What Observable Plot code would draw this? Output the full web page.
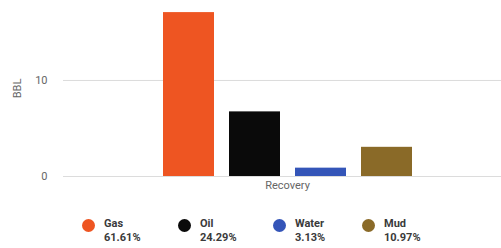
<!DOCTYPE html>
<html>
<head>
<meta charset="utf-8">
<script src="https://cdn.jsdelivr.net/npm/d3@7"></script>
<script src="https://cdn.jsdelivr.net/npm/@observablehq/plot@0.6"></script>
<style>
  html, body { margin: 0; padding: 0; background: #fff; }
  body { width: 501px; height: 248px; overflow: hidden; font-family: Roboto, "Liberation Sans", sans-serif; }
  #legend { position: relative; height: 52px; }
  .item { position: absolute; top: 21px; display: flex; align-items: flex-start; }
  .dot { width: 13px; height: 13px; border-radius: 50%; margin-top: 2px; }
  .lbl { margin-left: 9px; font-size: 11px; font-weight: bold; color: #3a3a3a; line-height: 14px; }
</style>
</head>
<body>
<div id="chart"></div>
<div id="legend"></div>
<script>
const categories = ["Gas", "Oil", "Water", "Mud"];
const values = [17.07, 6.73, 0.87, 3.04];
const percents = ["61.61%", "24.29%", "3.13%", "10.97%"];
const colors = ["#ee5522", "#0a0a0a", "#3455b8", "#8a6a28"];
const yTicks = [0, 10];
const groupLabel = "Recovery";
const yLabel = "BBL";

const data = categories.map((c, i) => ({category: c, value: values[i]}));

const chart = Plot.plot({
  width: 501,
  height: 196,
  marginLeft: 63,
  marginRight: 0,
  marginTop: 0,
  marginBottom: 20,
  style: {fontFamily: "Roboto, 'Liberation Sans', sans-serif", fontSize: "11px", color: "#666"},
  x: {domain: categories, range: [161.7, 413], paddingInner: 0.22, paddingOuter: 0, axis: null},
  y: {domain: [0, 18.33], ticks: yTicks},
  color: {domain: categories, range: colors},
  marks: [
    Plot.ruleY(yTicks, {stroke: "#dcdcdc", strokeWidth: 1}),
    Plot.axisY({ticks: yTicks, tickSize: 0, tickPadding: 16, label: yLabel, labelAnchor: "center", labelArrow: "none", labelOffset: 50, fill: "#666"}),
    Plot.barY(data, {x: "category", y: "value", fill: "category"}),
    Plot.text([groupLabel], {frameAnchor: "bottom", dy: 12, dx: 5, fill: "#666", fontSize: 11})
  ]
});
document.getElementById("chart").appendChild(chart);

const legend = document.getElementById("legend");
const lefts = [82, 178, 273, 362];
categories.forEach((c, i) => {
  const it = document.createElement("div");
  it.className = "item";
  it.style.left = lefts[i] + "px";
  it.innerHTML = `<div class="dot" style="background:${colors[i]}"></div><div class="lbl">${c}<br>${percents[i]}</div>`;
  legend.appendChild(it);
});
</script>
</body>
</html>
